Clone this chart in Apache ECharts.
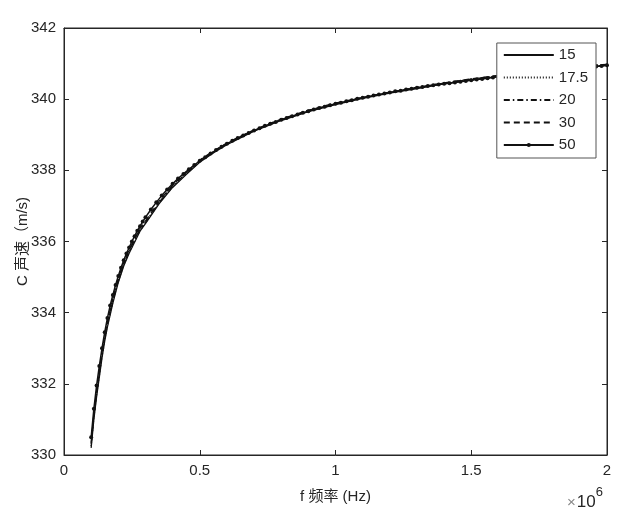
<!DOCTYPE html>
<html><head><meta charset="utf-8">
<script src="https://cdn.jsdelivr.net/npm/echarts@6/dist/echarts.min.js"></script>
<style>html,body{margin:0;padding:0;background:#fff}#c{width:643px;height:524px}</style>
</head><body><div id="c"></div>
<script>
// frequency (×10^6 Hz) for the plain line series
const fLine = [0.10,0.11,0.12,0.13,0.14,0.15,0.16,0.18,0.20,0.22,0.24,0.26,0.28,0.30,0.35,0.40,0.45,0.50,0.55,0.60,0.70,0.80,0.90,1.00,1.10,1.20,1.30,1.40,1.50,1.60,1.70,1.80,1.90,2.00];
const c15  = [330.2,331.0,331.63,332.18,332.73,333.2,333.6,334.27,334.85,335.31,335.67,335.98,336.29,336.5,337.06,337.52,337.88,338.23,338.49,338.72,339.1,339.4,339.65,339.85,340.02,340.17,340.3,340.43,340.54,340.64,340.73,340.81,340.89,340.95];
const c175 = [330.25,331.05,331.68,332.23,332.78,333.25,333.65,334.31,334.88,335.34,335.7,336.0,336.31,336.52,337.08,337.54,337.9,338.25,338.5,338.73,339.11,339.41,339.66,339.86,340.03,340.18,340.31,340.44,340.55,340.65,340.74,340.82,340.9,340.96];
const c20  = [330.3,331.1,331.73,332.28,332.83,333.29,333.69,334.35,334.91,335.37,335.73,336.03,336.33,336.54,337.1,337.56,337.92,338.27,338.52,338.75,339.12,339.42,339.67,339.87,340.04,340.19,340.32,340.45,340.56,340.66,340.75,340.83,340.91,340.97];
const c30  = [330.35,331.15,331.79,332.34,332.89,333.34,333.75,334.4,334.96,335.41,335.77,336.07,336.37,336.57,337.13,337.58,337.94,338.29,338.54,338.77,339.14,339.44,339.69,339.89,340.05,340.2,340.33,340.46,340.57,340.67,340.76,340.84,340.92,340.98];
// frequency (×10^6 Hz) for the marked series 50
const f50 = [0.10,0.11,0.12,0.13,0.14,0.15,0.16,0.17,0.18,0.19,0.20,0.21,0.22,0.23,0.24,0.25,0.26,0.27,0.28,0.29,0.30,
  0.32,0.34,0.36,0.38,0.40,0.42,0.44,0.46,0.48,0.50,0.52,0.54,0.56,0.58,0.60,0.62,0.64,0.66,0.68,0.70,0.72,0.74,0.76,0.78,0.80,
  0.82,0.84,0.86,0.88,0.90,0.92,0.94,0.96,0.98,1.00,1.02,1.04,1.06,1.08,1.10,1.12,1.14,1.16,1.18,1.20,1.22,1.24,1.26,1.28,1.30,
  1.32,1.34,1.36,1.38,1.40,1.42,1.44,1.46,1.48,1.50,1.52,1.54,1.56,1.58,1.60,1.62,1.64,1.66,1.68,1.70,1.72,1.74,1.76,1.78,1.80,
  1.82,1.84,1.86,1.88,1.90,1.92,1.94,1.96,1.98,2.00];
const c50 = [330.5,331.3,331.95,332.5,333.0,333.45,333.85,334.2,334.5,334.78,335.03,335.26,335.47,335.66,335.83,336.0,336.15,336.3,336.43,336.56,336.68,
  336.9,337.1,337.29,337.46,337.62,337.77,337.9,338.03,338.15,338.27,338.37,338.47,338.57,338.66,338.75,338.83,338.91,338.98,339.05,339.12,339.18,339.25,339.31,339.36,339.42,
  339.47,339.52,339.57,339.62,339.66,339.71,339.75,339.79,339.83,339.87,339.9,339.94,339.97,340.01,340.04,340.07,340.1,340.13,340.16,340.19,340.22,340.24,340.27,340.29,340.32,
  340.34,340.37,340.39,340.41,340.43,340.45,340.47,340.49,340.51,340.53,340.55,340.57,340.59,340.61,340.63,340.64,340.66,340.68,340.69,340.71,340.72,340.74,340.75,340.77,340.8,
  340.81,340.83,340.84,340.86,340.87,340.89,340.9,340.92,340.93,340.95];
const seriesNames = ['15','17.5','20','30','50'];
const xTicks = ['0','0.5','1','1.5','2'];

const zip = (xs, ys) => xs.map((x, i) => [x, ys[i]]);
const FONT = '"Liberation Sans", Arial, "Noto Sans CJK SC", sans-serif';
const TXT = '#262626';
const HIDE = {color: 'rgba(0,0,0,0)', borderColor: 'rgba(0,0,0,0)', borderWidth: 0};

const chart = echarts.init(document.getElementById('c'), null, {renderer: 'canvas'});
const lineS = (name, data, dash) => ({
  name, type: 'line', data, symbol: 'none', smooth: false,
  lineStyle: {color: '#111', width: 1.3, type: dash}, itemStyle: {color: '#111'}, z: 3
});
chart.setOption({
  animation: false,
  backgroundColor: '#fff',
  grid: {left: 64, right: 36, top: 28, bottom: 69, show: true, borderColor: TXT, borderWidth: 1, containLabel: false},
  xAxis: [{
    type: 'value', min: 0, max: 2, interval: 0.5, position: 'bottom',
    axisLine: {show: true, onZero: false, lineStyle: {color: TXT}},
    axisTick: {show: true, inside: true, length: 5, lineStyle: {color: TXT}},
    axisLabel: {color: TXT, fontSize: 15, fontFamily: FONT, margin: 8, formatter: (v) => xTicks[Math.round(v / 0.5)]},
    splitLine: {show: false},
    name: 'f 频率 (Hz)', nameLocation: 'middle', nameGap: 34, nameMoveOverlap: false,
    nameTextStyle: {color: TXT, fontSize: 15, fontFamily: FONT}
  }, {
    type: 'value', min: 0, max: 2, interval: 0.5, position: 'top',
    axisLine: {show: true, onZero: false, lineStyle: {color: TXT}},
    axisTick: {show: true, inside: true, length: 5, lineStyle: {color: TXT}},
    axisLabel: {show: false}, splitLine: {show: false}
  }],
  yAxis: [{
    type: 'value', min: 330, max: 342, interval: 2, position: 'left',
    axisLine: {show: true, onZero: false, lineStyle: {color: TXT}},
    axisTick: {show: true, inside: true, length: 5, lineStyle: {color: TXT}},
    axisLabel: {color: TXT, fontSize: 15, fontFamily: FONT, margin: 8},
    splitLine: {show: false},
    name: 'C 声速（m/s)', nameLocation: 'middle', nameGap: 34, nameRotate: 90, nameMoveOverlap: false,
    nameTextStyle: {color: TXT, fontSize: 15, fontFamily: FONT}
  }, {
    type: 'value', min: 330, max: 342, interval: 2, position: 'right',
    axisLine: {show: true, onZero: false, lineStyle: {color: TXT}},
    axisTick: {show: true, inside: true, length: 5, lineStyle: {color: TXT}},
    axisLabel: {show: false}, splitLine: {show: false}
  }],
  legend: {
    show: true, orient: 'vertical', right: 47, top: 43,
    backgroundColor: '#fff', borderColor: '#555', borderWidth: 1,
    padding: [4, 8, 5, 6], itemGap: 6.5, itemWidth: 50, itemHeight: 5,
    textStyle: {color: TXT, fontSize: 15, fontFamily: FONT, lineHeight: 16},
    data: [
      {name: seriesNames[0], itemStyle: HIDE},
      {name: seriesNames[1], itemStyle: HIDE},
      {name: seriesNames[2], itemStyle: HIDE},
      {name: seriesNames[3], itemStyle: HIDE},
      {name: seriesNames[4]}
    ], z: 10
  },
  series: [
    lineS(seriesNames[0], zip(fLine, c15), 'solid'),
    lineS(seriesNames[1], zip(fLine, c175), [1, 2]),
    lineS(seriesNames[2], zip(fLine, c20), [6, 3, 1.5, 3]),
    lineS(seriesNames[3], zip(fLine, c30), [6, 4]),
    {
      name: seriesNames[4], type: 'line', data: zip(f50, c50),
      symbol: 'circle', symbolSize: 4, showSymbol: true,
      lineStyle: {color: '#111', width: 1.5}, itemStyle: {color: '#111'}, z: 4
    }
  ],
  graphic: [{
    type: 'text', left: 567, top: 486,
    style: {
      text: '{x|×}{b|10}{s|6}', fill: TXT,
      rich: {
        x: {fontSize: 15, fontFamily: FONT, fill: '#888', padding: [8, 1, 0, 0]},
        b: {fontSize: 17, fontFamily: FONT, fill: TXT, padding: [8, 0, 0, 0]},
        s: {fontSize: 13, fontFamily: FONT, fill: TXT, verticalAlign: 'top', padding: [0, 0, 10, 0]}
      }
    }
  }]
});
</script></body></html>
